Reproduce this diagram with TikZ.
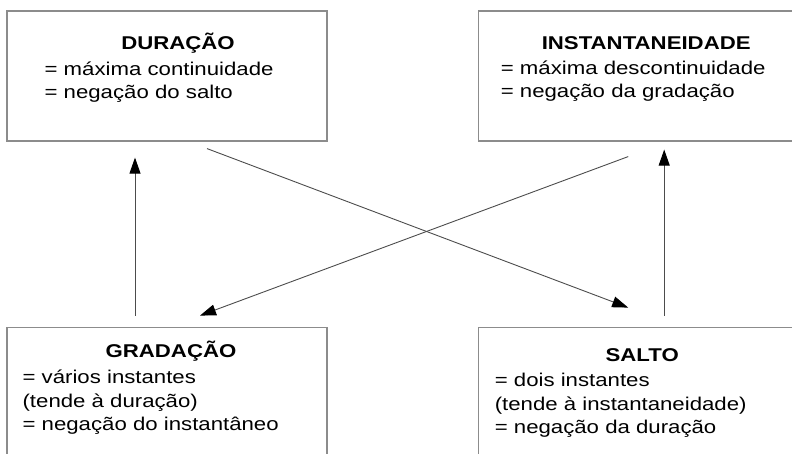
\documentclass[tikz,border=0pt]{standalone}
\usepackage{fontspec}
\setmainfont{Liberation Sans}[FakeStretch=1.2]
\usepackage{tikz}
\usetikzlibrary{arrows.meta,positioning}

\begin{document}
\begin{tikzpicture}[
  x=1pt, y=1pt,
  box/.style={rectangle, draw=black!45, line width=1.2pt, minimum width=320pt, minimum height=130pt, inner sep=0pt},
  title/.style={font=\fontsize{18.5}{23.5}\selectfont\bfseries, inner sep=0pt, anchor=base},
  body/.style={font=\fontsize{18.5}{23.5}\selectfont, align=left, inner sep=0pt, anchor=base west},
  arrow/.style={-{Triangle[length=16pt, width=11pt, color=black]}, draw=black!70, line width=0.9pt}
]
\useasboundingbox (0,0) rectangle (792,454);
\clip (0,0) rectangle (792,454);

%% Boxes
\node[box] (dur) at (167,378) {};
\node[box, right=150pt of dur] (ins) {};
\node[box, below=185pt of dur] (gra) {};
\node[box, right=150pt of gra] (sal) {};

%% Texts (body base = last line)
\node[title] at ([xshift=11pt, yshift=-39pt]dur.north) {DURAÇÃO};
\node[body] at ([xshift=38pt, yshift=-88.5pt]dur.north west) {= máxima continuidade\\= negação do salto};
\node[title] at ([xshift=8pt, yshift=-39pt]ins.north) {INSTANTANEIDADE};
\node[body] at ([xshift=23pt, yshift=-87.5pt]ins.north west) {= máxima descontinuidade\\= negação da gradação};
\node[title] at ([xshift=4pt, yshift=-31pt]gra.north) {GRADAÇÃO};
\node[body] at ([xshift=16pt, yshift=-104pt]gra.north west) {= vários instantes\\(tende à duração)\\= negação do instantâneo};
\node[title] at ([xshift=4pt, yshift=-35pt]sal.north) {SALTO};
\node[body] at ([xshift=17pt, yshift=-107pt]sal.north west) {= dois instantes\\(tende à instantaneidade)\\= negação da duração};

%% Arrows
\draw[arrow] ([xshift=-32pt, yshift=11pt]gra.north) -- ([xshift=-32pt, yshift=-16pt]dur.south);
\draw[arrow] ([xshift=26pt, yshift=11pt]sal.north) -- ([xshift=26pt, yshift=-8pt]ins.south);
\draw[arrow] ([xshift=40pt, yshift=-7pt]dur.south) -- ([xshift=-10pt, yshift=19pt]sal.north);
\draw[arrow] ([xshift=-10pt, yshift=-15pt]ins.south) -- ([xshift=33pt, yshift=11pt]gra.north);
\end{tikzpicture}
\end{document}
